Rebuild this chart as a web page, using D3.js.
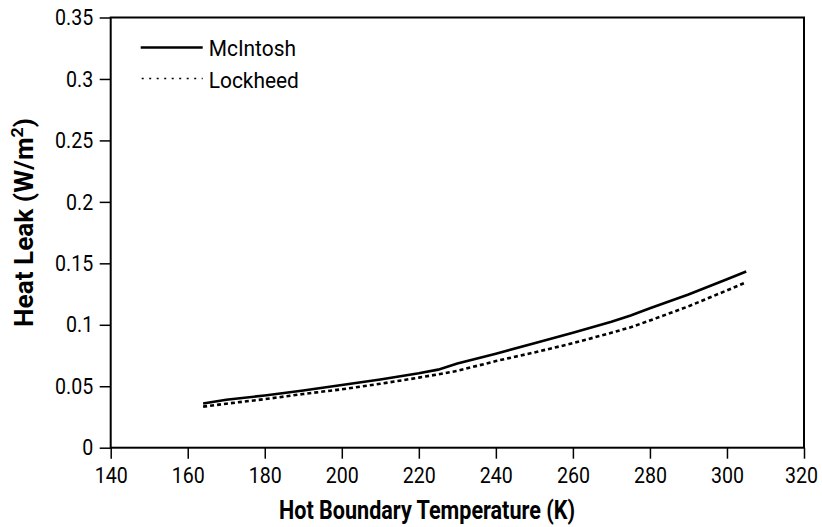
<!DOCTYPE html>
<html>
<head>
<meta charset="utf-8">
<script src="https://cdn.jsdelivr.net/npm/d3@7"></script>
<style>
  body { margin: 0; background: #fff; }
  svg text { font-family: Roboto, "Liberation Sans", sans-serif; fill: #000; }
</style>
</head>
<body>
<div class="canvas"></div>
<script>
// temperatures (K)
const temps = [164, 170, 180, 190, 200, 210, 220, 225, 230, 240, 250, 260, 270, 275, 280, 290, 300, 305];
const mcintosh = [0.036, 0.039, 0.0425, 0.0465, 0.051, 0.0555, 0.0605, 0.0635, 0.0685, 0.0765, 0.085, 0.0935, 0.1025, 0.1075, 0.1135, 0.1247, 0.137, 0.1433];
const lockheed = [0.0334, 0.0358, 0.0395, 0.0437, 0.0475, 0.052, 0.057, 0.0597, 0.0625, 0.0705, 0.0775, 0.085, 0.0935, 0.098, 0.1035, 0.115, 0.128, 0.1346];
const xTicks = [140, 160, 180, 200, 220, 240, 260, 280, 300, 320];
const yTicks = [0, 0.05, 0.1, 0.15, 0.2, 0.25, 0.3, 0.35];
const seriesNames = ["McIntosh", "Lockheed"];

const W = 822, H = 527;
const margin = { left: 110.7, top: 17.5, right: 18, bottom: 79.3 };
const iw = W - margin.left - margin.right;
const ih = H - margin.top - margin.bottom;

const svg = d3.select(".canvas")
    .append("svg")
    .attr("width", W)
    .attr("height", H);

const g = svg.append("g")
    .attr("transform", "translate(" + margin.left + "," + margin.top + ")");

const x = d3.scaleLinear().domain([140, 320]).range([0, iw]);
const y = d3.scaleLinear().domain([0, 0.35]).range([ih, 0]);

// squeeze text so Roboto looks like the condensed face of the original
function condense(sel, k) {
    sel.each(function() {
        const w = this.getComputedTextLength();
        d3.select(this).attr("textLength", w * k).attr("lengthAdjust", "spacingAndGlyphs");
    });
}

// axes
const xAxis = g.append("g")
    .attr("transform", "translate(0," + ih + ")")
    .call(d3.axisBottom(x).tickValues(xTicks).tickSize(11).tickPadding(8).tickFormat(d3.format("d")));
const yAxis = g.append("g")
    .call(d3.axisLeft(y).tickValues(yTicks).tickSize(11).tickPadding(6.5).tickFormat(d => d === 0 ? "0" : String(+d.toFixed(2))));

[xAxis, yAxis].forEach(a => {
    a.select(".domain").remove();
    a.selectAll(".tick line").attr("stroke", "#000").attr("stroke-width", 1.5);
    a.selectAll(".tick text").style("font-size", "22.5px").attr("fill", "#000");
    condense(a.selectAll(".tick text"), 0.87);
});
// last label sits on the window edge
xAxis.selectAll(".tick text").filter(d => d === 320).attr("dx", -3);

// frame
g.append("rect")
    .attr("width", iw)
    .attr("height", ih)
    .attr("fill", "none")
    .attr("stroke", "#000")
    .attr("stroke-width", 2);

const line = d3.line()
    .x((d, i) => x(temps[i]))
    .y(d => y(d));

g.append("path")
    .datum(mcintosh)
    .attr("d", line)
    .attr("fill", "none")
    .attr("stroke", "#000")
    .attr("stroke-width", 2.6);

g.append("path")
    .datum(lockheed)
    .attr("d", line)
    .attr("fill", "none")
    .attr("stroke", "#000")
    .attr("stroke-width", 2.6)
    .attr("stroke-dasharray", "4,3");

// legend
const legend = g.append("g").attr("transform", "translate(30,30)");
legend.append("line")
    .attr("x1", 0).attr("x2", 62).attr("y1", 0).attr("y2", 0)
    .attr("stroke", "#000").attr("stroke-width", 2.5);
legend.append("line")
    .attr("x1", 1).attr("x2", 62).attr("y1", 31).attr("y2", 31)
    .attr("stroke", "#000").attr("stroke-width", 1.3).attr("stroke-dasharray", "2,5.5");
const lgText = legend.selectAll("text.lg")
    .data(seriesNames)
    .enter()
    .append("text")
    .attr("class", "lg")
    .attr("x", 68)
    .attr("y", (d, i) => i * 32.5 + 8)
    .style("font-size", "22px")
    .text(d => d);
condense(lgText, 0.95);

// axis titles
const xt = svg.append("text")
    .attr("x", 427)
    .attr("y", 519)
    .attr("text-anchor", "middle")
    .style("font-size", "26px")
    .style("font-weight", "bold")
    .text("Hot Boundary Temperature (K)");
xt.attr("textLength", 296).attr("lengthAdjust", "spacingAndGlyphs");

const yt = svg.append("text")
    .attr("text-anchor", "middle")
    .style("font-size", "25px")
    .style("font-weight", "bold");
yt.append("tspan").text("Heat Leak (W/m");
yt.append("tspan").attr("dy", -10).style("font-size", "17px").text("2");
yt.append("tspan").attr("dy", 10).text(")");
const ytw = yt.node().getBBox().width;
yt.attr("transform", "translate(33,222.5) rotate(-90) scale(" + (209 / ytw) + ",1)");
</script>
</body>
</html>
